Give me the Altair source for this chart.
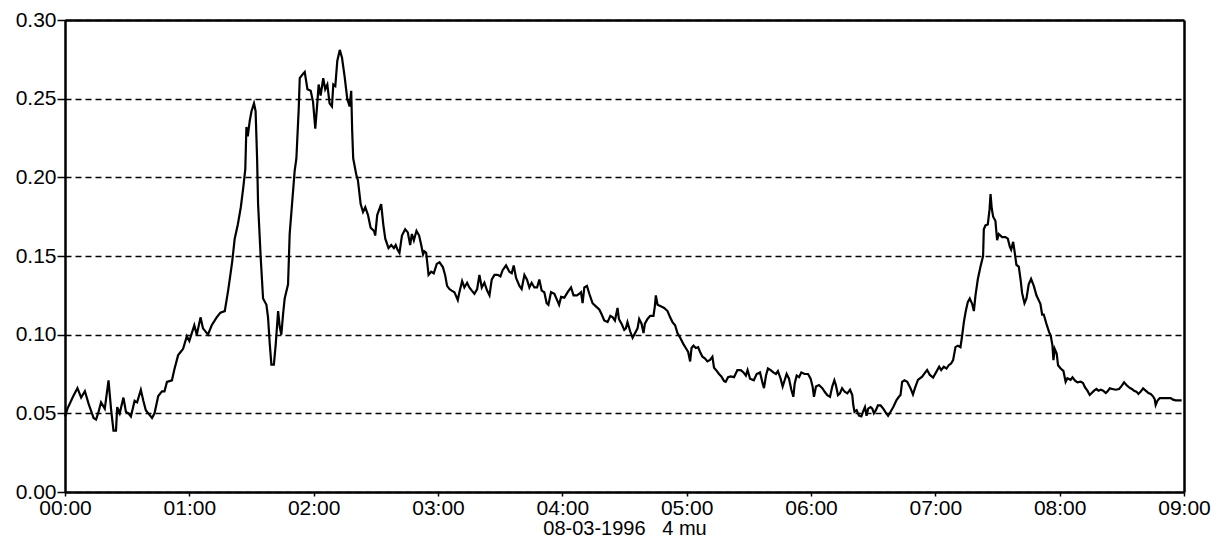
import altair as alt
import pandas as pd

# Time in hours after 00:00 (08-03-1996) and measured value
hours = [
    0.00, 0.02, 0.067, 0.10, 0.13, 0.16, 0.19, 0.23, 0.25, 0.27, 0.29, 0.32, 0.35, 0.37, 0.39,
    0.41, 0.42, 0.44, 0.47, 0.49, 0.51, 0.53, 0.56, 0.58, 0.61, 0.63, 0.65, 0.67, 0.70, 0.72,
    0.75, 0.78, 0.80, 0.82, 0.86, 0.88, 0.91, 0.93, 0.95, 0.98, 1.00, 1.02, 1.04, 1.06, 1.09,
    1.11, 1.15, 1.18, 1.22, 1.25,
    1.285, 1.312, 1.33, 1.344, 1.365, 1.39, 1.414, 1.433, 1.45, 1.459, 1.47, 1.486, 1.50, 1.52,
    1.533, 1.545, 1.553, 1.574, 1.593, 1.62, 1.633, 1.647, 1.66, 1.68, 1.695, 1.714, 1.727,
    1.74, 1.754, 1.767, 1.794, 1.807, 1.826, 1.847, 1.861, 1.88, 1.888, 1.906, 1.928, 1.95,
    1.976, 1.995, 2.013, 2.03, 2.04, 2.056, 2.077, 2.093, 2.11, 2.128, 2.147, 2.158, 2.174,
    2.19, 2.21, 2.228, 2.249, 2.27, 2.289, 2.302, 2.31, 2.318, 2.342, 2.356, 2.378, 2.397,
    2.415, 2.437, 2.458, 2.485, 2.495, 2.511, 2.543, 2.56, 2.576, 2.602, 2.624, 2.645, 2.66,
    2.672, 2.69, 2.71, 2.736, 2.757, 2.776, 2.79, 2.806, 2.827, 2.848, 2.865, 2.88, 2.89,
    2.905, 2.924, 2.945, 2.966, 2.99, 3.012, 3.039, 3.057, 3.073, 3.092, 3.11, 3.132, 3.159,
    3.172, 3.194, 3.212, 3.234, 3.252, 3.272, 3.293, 3.315, 3.333, 3.352, 3.373, 3.395, 3.414,
    3.432, 3.454, 3.48, 3.502, 3.52, 3.547, 3.574, 3.593, 3.609, 3.628, 3.655, 3.673, 3.695,
    3.716, 3.735, 3.753, 3.775, 3.797, 3.815, 3.834, 3.855, 3.874, 3.888, 3.909, 3.936, 3.963,
    3.974, 3.99,
    4.016, 4.043, 4.07, 4.09, 4.118, 4.137, 4.15, 4.163, 4.177, 4.198, 4.217, 4.243, 4.27,
    4.297, 4.316, 4.337, 4.364, 4.386, 4.405, 4.423, 4.444, 4.455, 4.476, 4.498, 4.511, 4.524,
    4.546, 4.565, 4.578, 4.605, 4.618, 4.637, 4.653, 4.664, 4.685, 4.707, 4.733, 4.744, 4.752,
    4.766, 4.792, 4.819, 4.846, 4.867, 4.886, 4.907, 4.926, 4.948, 4.974, 4.993, 5.012, 5.028,
    5.039, 5.055, 5.074, 5.092, 5.108, 5.127, 5.146, 5.167, 5.188, 5.207, 5.22, 5.242, 5.26,
    5.279, 5.301, 5.314, 5.333, 5.354,
    5.381, 5.408, 5.435, 5.457, 5.476, 5.49, 5.51, 5.54, 5.563, 5.59, 5.608, 5.622, 5.638,
    5.654, 5.676, 5.697, 5.718, 5.734, 5.756, 5.772, 5.788, 5.804, 5.823, 5.842, 5.858, 5.869,
    5.885, 5.904, 5.922, 5.949, 5.976, 5.997, 6.013, 6.024, 6.04, 6.064, 6.091, 6.11, 6.131,
    6.153, 6.171, 6.188, 6.20, 6.217, 6.233, 6.25, 6.271, 6.292, 6.314, 6.332, 6.34, 6.35,
    6.367, 6.386, 6.405, 6.421, 6.434, 6.447, 6.46, 6.479, 6.493, 6.506, 6.522, 6.538, 6.56,
    6.581, 6.60, 6.62, 6.64, 6.662, 6.688, 6.707, 6.72, 6.733, 6.752, 6.774,
    6.80, 6.82, 6.836, 6.86, 6.894, 6.913, 6.934, 6.956, 6.982, 7.009, 7.031, 7.047, 7.068,
    7.09, 7.108, 7.127, 7.143, 7.162, 7.181, 7.202, 7.215, 7.23, 7.245, 7.261, 7.277, 7.296,
    7.31, 7.323, 7.342, 7.363, 7.384, 7.39, 7.403, 7.422, 7.436, 7.444, 7.454, 7.465, 7.483,
    7.497, 7.51, 7.537, 7.564, 7.583, 7.599, 7.61, 7.626, 7.639, 7.652, 7.671, 7.685, 7.698,
    7.717, 7.733, 7.751, 7.77, 7.792, 7.813, 7.832, 7.845, 7.859, 7.872, 7.893, 7.915, 7.928,
    7.942, 7.95, 7.96, 7.976, 7.987, 8.008, 8.03, 8.048, 8.062, 8.088,
    8.103, 8.124, 8.143, 8.17, 8.188, 8.204, 8.223, 8.242, 8.258, 8.277, 8.296, 8.312, 8.331,
    8.35, 8.371, 8.384, 8.403, 8.424, 8.451, 8.478, 8.50, 8.518, 8.537, 8.558, 8.58, 8.598,
    8.617, 8.633, 8.652, 8.671, 8.692, 8.714, 8.732, 8.751, 8.764, 8.772, 8.786, 8.805, 8.831,
    8.866, 8.893, 8.912, 8.933, 8.96, 8.981,
]

values = [
    0.048, 0.053, 0.061, 0.066, 0.060, 0.064, 0.056, 0.047, 0.046, 0.051, 0.057, 0.053, 0.071, 0.053, 0.039,
    0.039, 0.054, 0.050, 0.060, 0.051, 0.050, 0.048, 0.058, 0.057, 0.065, 0.058, 0.052, 0.050, 0.047, 0.050,
    0.061, 0.064, 0.064, 0.070, 0.071, 0.078, 0.087, 0.089, 0.091, 0.099, 0.096, 0.101, 0.106, 0.100, 0.111,
    0.104, 0.100, 0.106, 0.111, 0.114,
    0.115, 0.128, 0.138, 0.146, 0.161, 0.170, 0.181, 0.193, 0.205, 0.232, 0.226, 0.236, 0.242, 0.247,
    0.242, 0.212, 0.183, 0.149, 0.123, 0.119, 0.111, 0.094, 0.081, 0.081, 0.094, 0.115, 0.105,
    0.100, 0.113, 0.123, 0.132, 0.164, 0.183, 0.204, 0.212, 0.244, 0.263, 0.265, 0.267, 0.256,
    0.255, 0.248, 0.231, 0.248, 0.259, 0.252, 0.263, 0.256, 0.259, 0.247, 0.245, 0.259, 0.258,
    0.274, 0.281, 0.276, 0.264, 0.250, 0.245, 0.255, 0.229, 0.212, 0.202, 0.198, 0.183, 0.178,
    0.181, 0.176, 0.168, 0.166, 0.163, 0.176, 0.183, 0.170, 0.161, 0.155, 0.157, 0.155, 0.157,
    0.1545, 0.152, 0.163, 0.167, 0.165, 0.157, 0.164, 0.160, 0.166, 0.163, 0.157, 0.151, 0.153,
    0.152, 0.138, 0.140, 0.139, 0.145, 0.146, 0.143, 0.138, 0.131, 0.129, 0.128, 0.127, 0.122,
    0.127, 0.134, 0.130, 0.133, 0.130, 0.128, 0.126, 0.129, 0.138, 0.130, 0.133, 0.128, 0.125,
    0.135, 0.138, 0.138, 0.137, 0.141, 0.144, 0.140, 0.139, 0.144, 0.136, 0.131, 0.129, 0.138,
    0.135, 0.130, 0.133, 0.130, 0.130, 0.135, 0.128, 0.127, 0.120, 0.119, 0.127, 0.126, 0.121,
    0.119, 0.124,
    0.1235, 0.127, 0.130, 0.125, 0.125, 0.126, 0.127, 0.120, 0.130, 0.131, 0.126, 0.120, 0.118,
    0.116, 0.113, 0.109, 0.108, 0.112, 0.111, 0.109, 0.117, 0.110, 0.107, 0.103, 0.104, 0.108,
    0.102, 0.098, 0.100, 0.104, 0.110, 0.107, 0.101, 0.107, 0.110, 0.112, 0.112, 0.118, 0.125,
    0.119, 0.118, 0.117, 0.115, 0.111, 0.108, 0.106, 0.101, 0.098, 0.094, 0.0915, 0.089, 0.083,
    0.0915, 0.093, 0.0915, 0.092, 0.089, 0.086, 0.085, 0.083, 0.084, 0.086, 0.079, 0.077, 0.075,
    0.0735, 0.0705, 0.070, 0.073, 0.0735,
    0.073, 0.0775, 0.0775, 0.076, 0.074, 0.0775, 0.072, 0.071, 0.075, 0.076, 0.070, 0.066, 0.074,
    0.0785, 0.0775, 0.076, 0.075, 0.0768, 0.072, 0.067, 0.071, 0.075, 0.072, 0.065, 0.0605, 0.069,
    0.074, 0.073, 0.076, 0.075, 0.075, 0.072, 0.067, 0.0605, 0.067, 0.068, 0.066, 0.0637, 0.0616,
    0.0605, 0.067, 0.071, 0.068, 0.0616, 0.0627, 0.066, 0.0637, 0.0627, 0.065, 0.0616, 0.0553, 0.051,
    0.052, 0.0485, 0.048, 0.0515, 0.054, 0.0485, 0.053, 0.054, 0.053, 0.050, 0.052, 0.055, 0.055,
    0.053, 0.0506, 0.0485, 0.051, 0.054, 0.0584, 0.0605, 0.0616, 0.070, 0.071, 0.070,
    0.066, 0.062, 0.066, 0.0713, 0.0733, 0.0754, 0.0775, 0.0744, 0.0727, 0.0765, 0.0796, 0.0775, 0.0796,
    0.0785, 0.0806, 0.0817, 0.0838, 0.0921, 0.093, 0.092, 0.099, 0.1083, 0.115, 0.1207, 0.123, 0.1196,
    0.115, 0.125, 0.1354, 0.1432, 0.150, 0.167, 0.1694, 0.170, 0.1796, 0.1894, 0.180, 0.175, 0.1724,
    0.160, 0.164, 0.162, 0.162, 0.161, 0.156, 0.154, 0.159, 0.152, 0.1444, 0.1432, 0.1354, 0.1264,
    0.120, 0.123, 0.132, 0.1354, 0.131, 0.125, 0.1218, 0.1196, 0.1128, 0.1128, 0.107, 0.1016, 0.0994,
    0.093, 0.0838, 0.091, 0.088, 0.0806, 0.0785, 0.077, 0.070, 0.0723, 0.0713,
    0.0729, 0.0708, 0.0697, 0.0701, 0.0693, 0.0665, 0.0644, 0.0617, 0.0629, 0.0644, 0.0655, 0.0644, 0.065,
    0.0644, 0.0629, 0.0638, 0.0659, 0.0655, 0.065, 0.0655, 0.0676, 0.0697, 0.068, 0.0665, 0.0655, 0.0644,
    0.0638, 0.0623, 0.0638, 0.0659, 0.0644, 0.0629, 0.0623, 0.0608, 0.0591, 0.0553, 0.058, 0.0597, 0.0597,
    0.0597, 0.0597, 0.0587, 0.0583, 0.0583, 0.0583,
]

x_ticks = [0, 1, 2, 3, 4, 5, 6, 7, 8, 9]
y_ticks = [0.00, 0.05, 0.10, 0.15, 0.20, 0.25, 0.30]
x_title = "08-03-1996\u00a0\u00a0 4 mu"

df = pd.DataFrame({"t": hours, "v": values})

FONT = "Liberation Sans"
xscale = alt.Scale(domain=[0, 9], nice=False, zero=False)
yscale = alt.Scale(domain=[0, 0.30], nice=False, zero=True)

line = (
    alt.Chart(df)
    .mark_line(color="black", strokeWidth=2.2, interpolate="linear")
    .encode(
        x=alt.X(
            "t:Q",
            scale=xscale,
            axis=alt.Axis(
                values=x_ticks,
                labelExpr="'0' + datum.value + ':00'",
                title=x_title,
                titleFont=FONT,
                titleFontSize=20,
                titleFontWeight="normal",
                titleColor="black",
                titlePadding=0,
                labelFont=FONT,
                labelFontSize=21,
                labelColor="black",
                labelPadding=1,
                tickSize=4,
                tickColor="black",
                tickWidth=1.5,
                domainColor="black",
                domainWidth=2.5,
                grid=False,
                labelFlush=False,
                labelOverlap=False,
            ),
        ),
        y=alt.Y(
            "v:Q",
            scale=yscale,
            axis=alt.Axis(
                values=y_ticks,
                format=".2f",
                title=None,
                labelFont=FONT,
                labelFontSize=21,
                labelColor="black",
                labelPadding=1,
                tickSize=8,
                tickColor="black",
                tickWidth=1.5,
                domainColor="black",
                domainWidth=2.5,
                grid=True,
                gridColor="black",
                gridWidth=1.6,
                gridDash=[6, 4],
                labelFlush=False,
                labelOverlap=False,
            ),
        ),
    )
)

frame_axis = dict(labels=False, ticks=False, grid=False, title=None,
                  domainColor="black", domainWidth=2.5)

frame = (
    alt.Chart(df)
    .mark_line(opacity=0)
    .encode(
        x=alt.X("t:Q", scale=xscale, axis=alt.Axis(orient="top", **frame_axis)),
        y=alt.Y("v:Q", scale=yscale, axis=alt.Axis(orient="right", **frame_axis)),
    )
)

chart = (
    alt.layer(line, frame)
    .resolve_axis(x="independent", y="independent")
    .properties(
        width=1119,
        height=472,
        autosize=alt.AutoSizeParams(type="none"),
        padding={"left": 57, "top": 12, "right": 29, "bottom": 48},
    )
    .configure_view(stroke=None)
    .configure(background="white")
)

chart.save("out.html", embed_options={"renderer": "svg", "actions": False})
